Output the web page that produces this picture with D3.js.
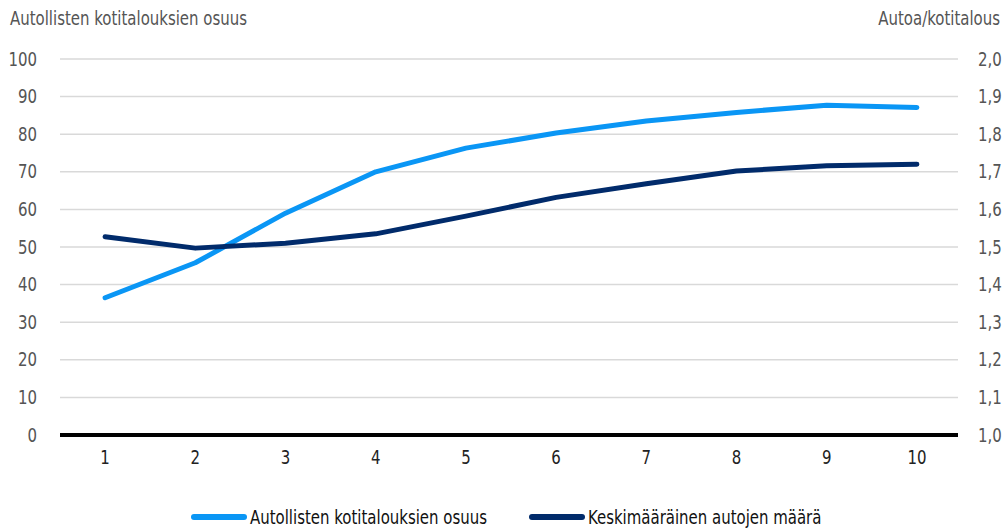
<!DOCTYPE html>
<html>
<head>
<meta charset="utf-8">
<script src="https://cdn.jsdelivr.net/npm/d3@7/dist/d3.min.js"></script>
<style>
  html, body { margin: 0; padding: 0; background: #fff; }
  svg text { font-family: "DejaVu Sans Condensed", "DejaVu Sans", sans-serif; }
</style>
</head>
<body>
<svg id="chart" width="1007" height="531"></svg>
<script>
// Income deciles
const deciles = [1, 2, 3, 4, 5, 6, 7, 8, 9, 10];
// Share of households owning a car (%)
const shareWithCar = [36.5, 45.8, 59.0, 70.0, 76.3, 80.3, 83.5, 85.8, 87.7, 87.1];
// Average number of cars per household
const carsPerHousehold = [1.527, 1.497, 1.510, 1.535, 1.582, 1.632, 1.668, 1.702, 1.716, 1.720];

const leftTicks = [0, 10, 20, 30, 40, 50, 60, 70, 80, 90, 100];
const rightTicks = [1.0, 1.1, 1.2, 1.3, 1.4, 1.5, 1.6, 1.7, 1.8, 1.9, 2.0];

const seriesNames = ["Autollisten kotitalouksien osuus", "Keskimääräinen autojen määrä"];
const leftTitle = "Autollisten kotitalouksien osuus";
const rightTitle = "Autoa/kotitalous";

const colorLight = "#0a96f5";
const colorDark = "#012b6b";
const FONT_SIZE = 19;
const NARROW = 0.875; // horizontal compression for a condensed look

const svg = d3.select("#chart");
const plot = { left: 60, right: 958, top: 59, bottom: 435 };

const x = d3.scaleBand().domain(deciles).range([plot.left, plot.right + 4]);
const yL = d3.scaleLinear().domain([0, 100]).range([plot.bottom, plot.top]);
const yR = d3.scaleLinear().domain([1.0, 2.0]).range([plot.bottom, plot.top]);

// Gridlines
svg.append("g")
  .selectAll("line")
  .data(leftTicks.filter(d => d !== 0))
  .join("line")
  .attr("x1", plot.left).attr("x2", plot.right)
  .attr("y1", d => yL(d)).attr("y2", d => yL(d))
  .attr("stroke", "#d9d9d9").attr("stroke-width", 1.5);

// Left axis
const leftAxis = svg.append("g")
  .attr("transform", `translate(${plot.left},0)`)
  .call(d3.axisLeft(yL).tickValues(leftTicks).tickSize(0).tickPadding(23).tickFormat(d3.format("d")));
leftAxis.select(".domain").remove();
leftAxis.selectAll("text").attr("font-size", FONT_SIZE).attr("fill", "#555").attr("font-family", null);

// Right axis
const rightAxis = svg.append("g")
  .attr("transform", `translate(${plot.right},0)`)
  .call(d3.axisRight(yR).tickValues(rightTicks).tickSize(0).tickPadding(20)
    .tickFormat(d => d3.format(".1f")(d).replace(".", ",")));
rightAxis.select(".domain").remove();
rightAxis.selectAll("text").attr("font-size", FONT_SIZE).attr("fill", "#555").attr("font-family", null);

// X axis labels
const xAxis = svg.append("g")
  .attr("transform", `translate(0,${plot.bottom})`)
  .call(d3.axisBottom(x).tickSize(0).tickPadding(16));
xAxis.select(".domain").remove();
xAxis.selectAll("text").attr("font-size", FONT_SIZE).attr("fill", "#222").attr("font-family", null);

// Zero baseline
svg.append("line")
  .attr("x1", plot.left).attr("x2", plot.right)
  .attr("y1", yL(0)).attr("y2", yL(0))
  .attr("stroke", "#000").attr("stroke-width", 4);

const cx = d => x(d) + x.bandwidth() / 2;

// Series lines
const lineL = d3.line().x((d, i) => cx(deciles[i])).y(d => yL(d));
const lineR = d3.line().x((d, i) => cx(deciles[i])).y(d => yR(d));

svg.append("path")
  .datum(shareWithCar)
  .attr("d", lineL)
  .attr("fill", "none").attr("stroke", colorLight)
  .attr("stroke-width", 5).attr("stroke-linecap", "round").attr("stroke-linejoin", "round");

svg.append("path")
  .datum(carsPerHousehold)
  .attr("d", lineR)
  .attr("fill", "none").attr("stroke", colorDark)
  .attr("stroke-width", 5).attr("stroke-linecap", "round").attr("stroke-linejoin", "round");

// Axis titles
svg.append("text").attr("x", 10).attr("y", 25)
  .attr("font-size", FONT_SIZE).attr("fill", "#555").text(leftTitle);
svg.append("text").attr("x", 1000).attr("y", 25).attr("text-anchor", "end")
  .attr("font-size", FONT_SIZE).attr("fill", "#555").text(rightTitle);

// Legend
const legend = svg.append("g");
const legendItems = [
  { name: seriesNames[0], color: colorLight, x: 194 },
  { name: seriesNames[1], color: colorDark, x: 532 }
];
legendItems.forEach(it => {
  legend.append("line")
    .attr("x1", it.x).attr("x2", it.x + 50)
    .attr("y1", 517).attr("y2", 517)
    .attr("stroke", it.color).attr("stroke-width", 6).attr("stroke-linecap", "round");
  legend.append("text")
    .attr("x", it.x + 56).attr("y", 524)
    .attr("font-size", FONT_SIZE).attr("fill", "#111").text(it.name);
});

// Narrow every label horizontally around its anchor point (condensed look)
svg.selectAll("text").each(function () {
  const ax = +(this.getAttribute("x") || 0);
  d3.select(this).attr("transform",
    `translate(${ax},0) scale(${NARROW},1) translate(${-ax},0)`);
});
</script>
</body>
</html>
